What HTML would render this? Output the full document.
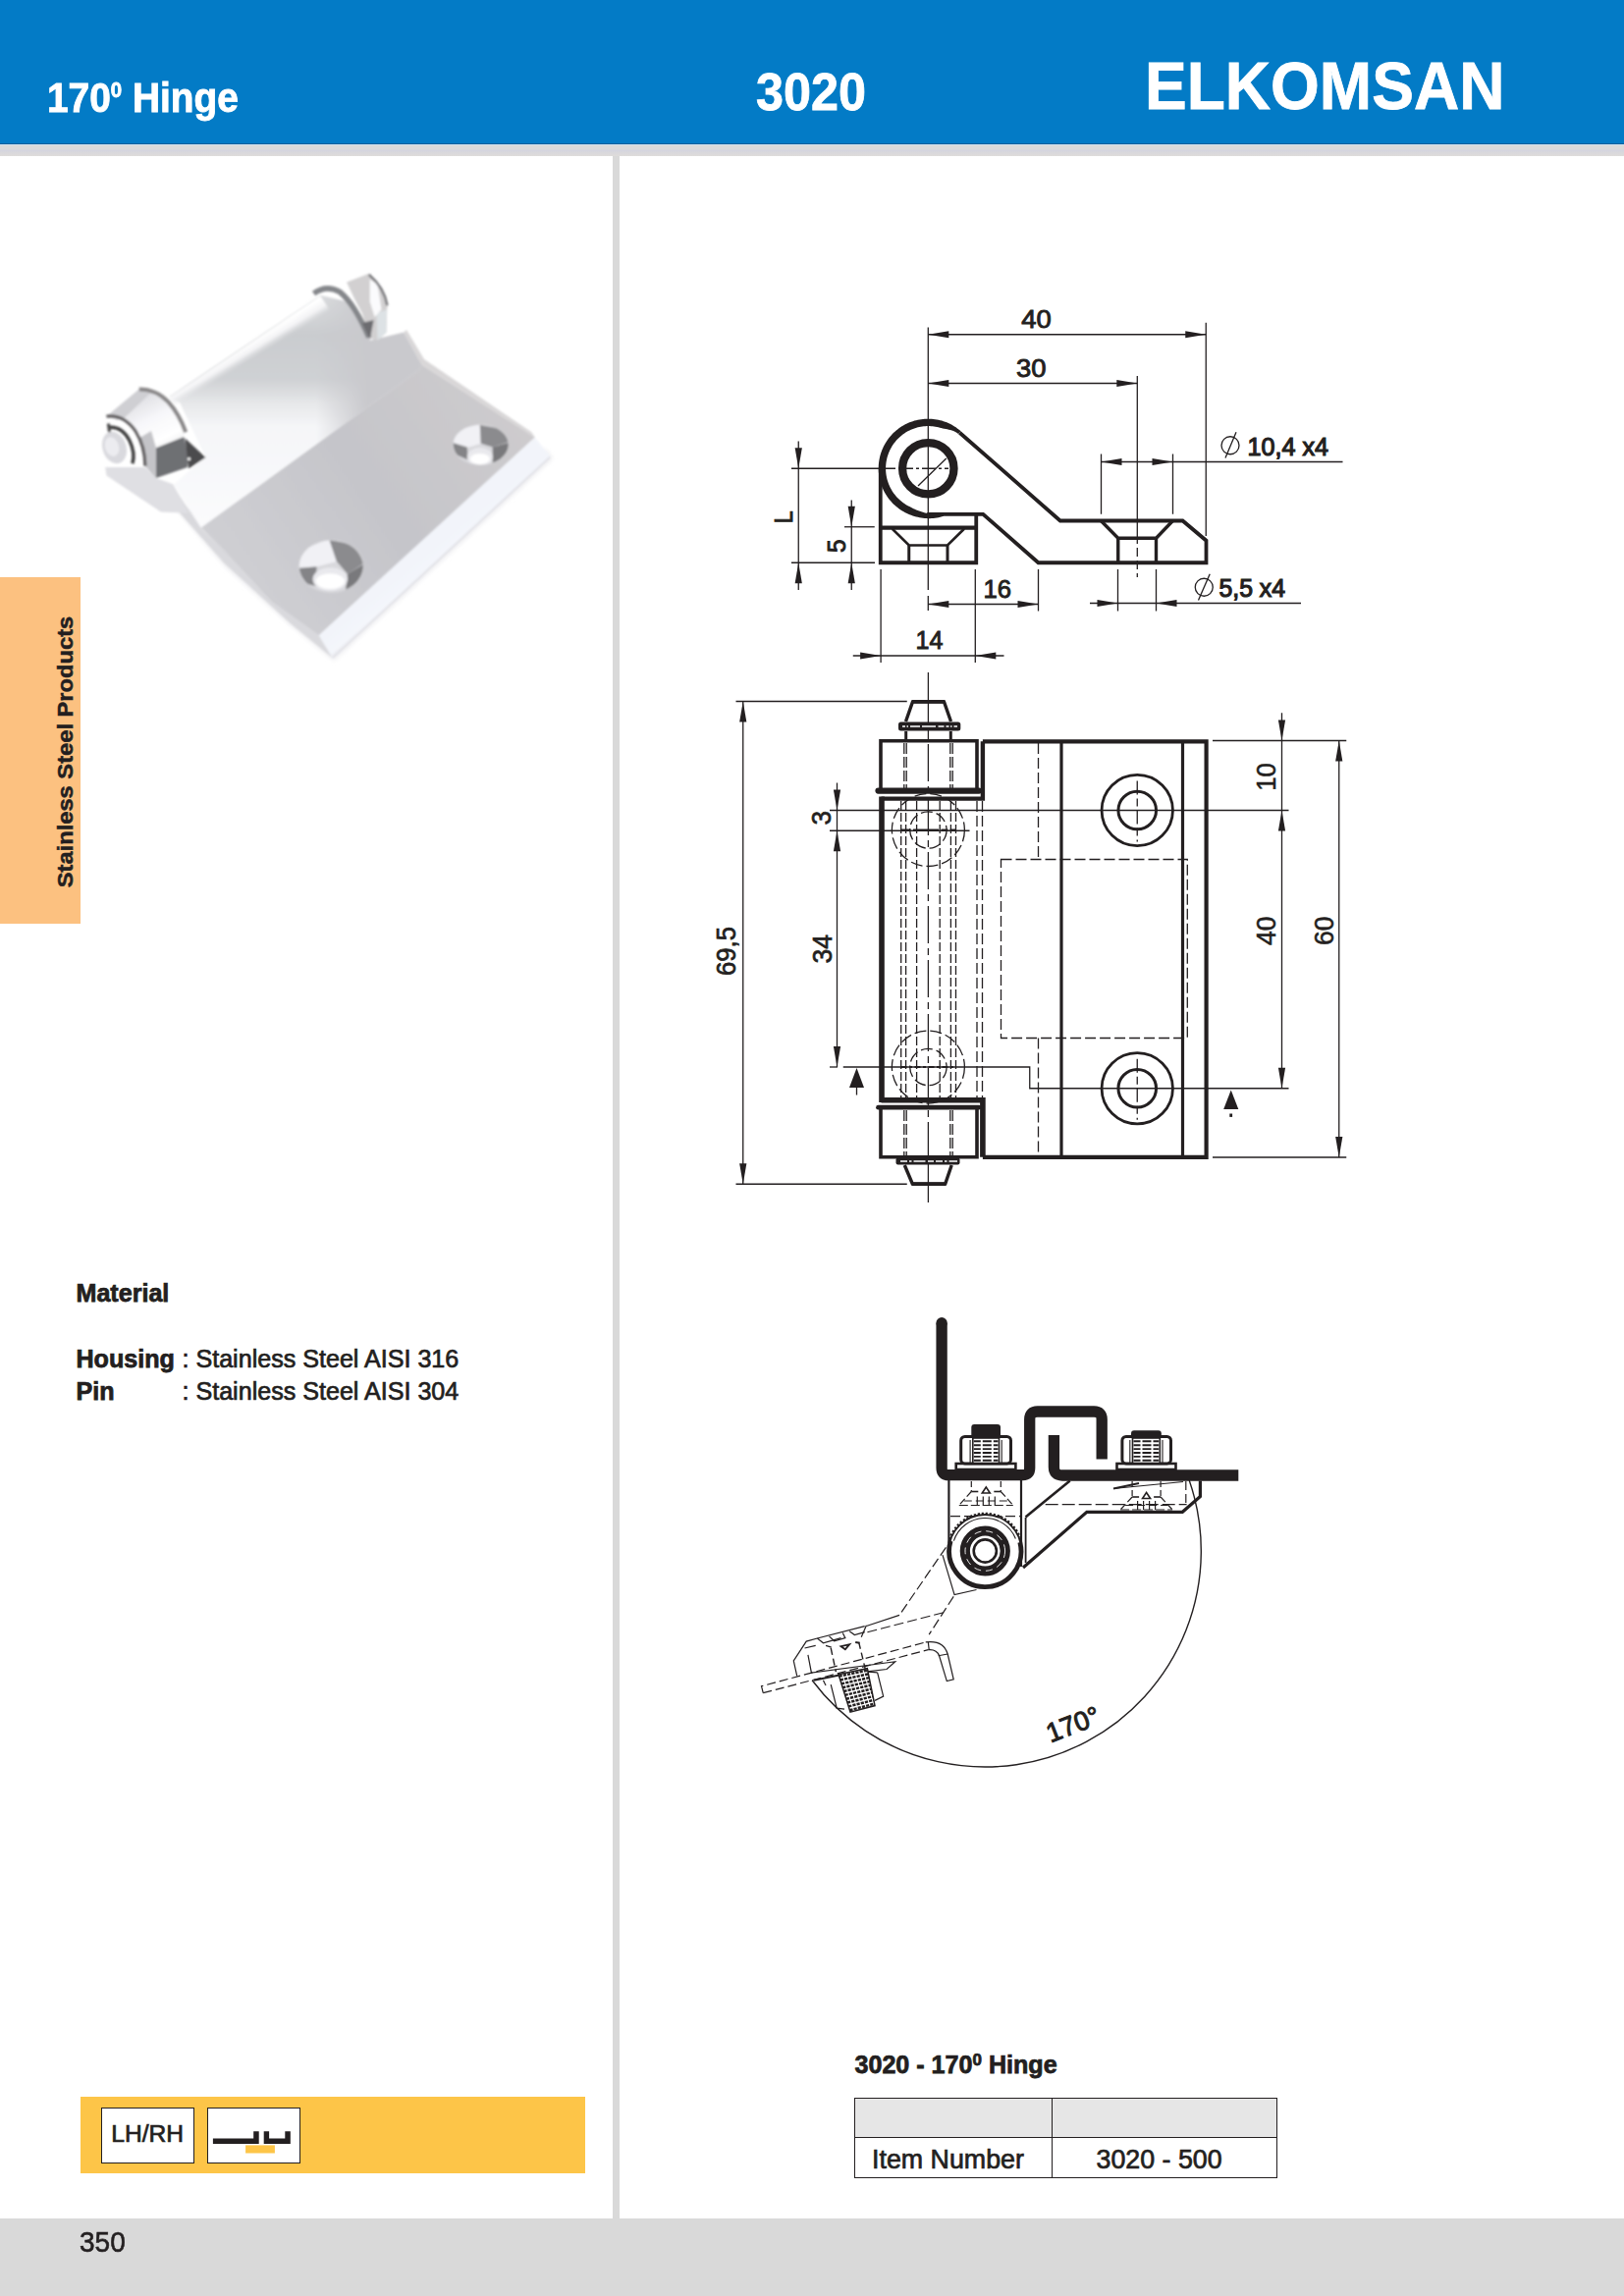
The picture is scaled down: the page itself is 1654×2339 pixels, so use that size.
<!DOCTYPE html>
<html>
<head>
<meta charset="utf-8">
<title>3020 - 170 Hinge</title>
<style>
html,body{margin:0;padding:0;background:#fff;}
body{width:1654px;height:2339px;position:relative;overflow:hidden;font-family:"Liberation Sans",sans-serif;color:#231f20;}
.abs{position:absolute;}
#hdr{left:0;top:0;width:1654px;height:146px;background:#037bc6;}
#hdrline{left:0;top:145.5px;width:1654px;height:1.5px;background:#07609b;}
#hdrline2{left:0;top:147px;width:1654px;height:1px;background:#cfe0ee;}
#strip{left:0;top:148px;width:1654px;height:11px;background:linear-gradient(#dadada 0,#dadada 35%,#d5d5df 50%,#d9d8dc 70%,#dedcda 100%);}
#vline{left:624px;top:159px;width:7px;height:2101px;background:#d9d9d9;}
#ftr{left:0;top:2260px;width:1654px;height:79px;background:#d9d9d9;}
.t{position:absolute;white-space:nowrap;line-height:1;}
.w{color:#fff;font-weight:bold;}
#h1{left:47.5px;top:79px;font-size:42px;-webkit-text-stroke:0.9px #fff;transform:scaleX(0.925);transform-origin:0 0;}
#h1 sup{font-size:22px;vertical-align:baseline;position:relative;top:-15.3px;line-height:0;}
#h2{left:770px;top:68px;font-size:52.8px;-webkit-text-stroke:0.8px #fff;transform:scaleX(0.953);transform-origin:0 0;}
#h3{left:1166px;top:53px;font-size:69px;-webkit-text-stroke:0.8px #fff;transform:scaleX(0.928);transform-origin:0 0;}
#tab{left:0;top:588px;width:82px;height:353px;background:#fcc180;}
#tabt{left:67.3px;top:766px;font-size:22.4px;font-weight:bold;color:#231f20;transform:translate(-50%,-50%) rotate(-90deg) scaleX(1.058);-webkit-text-stroke:0.5px #231f20;}
.b{font-weight:bold;-webkit-text-stroke:0.75px #231f20;}
.r{-webkit-text-stroke:0.7px #231f20;}
#ybar{left:82px;top:2136px;width:514px;height:78px;background:#fdc548;}
.wb{position:absolute;top:2147px;width:95px;height:57px;background:#fff;border:1px solid #231f20;box-sizing:border-box;}
#tbl{left:870px;top:2137px;width:431px;height:82px;box-sizing:border-box;border:1px solid #231f20;background:#fff;}
#tblh{left:871px;top:2138px;width:429px;height:39px;background:#e6e6e6;}
#tblm{left:870px;top:2177px;width:431px;height:1px;background:#231f20;}
#tblv{left:1071px;top:2137px;width:1px;height:82px;background:#231f20;}
</style>
</head>
<body>
<div class="abs" id="hdr"></div>
<div class="abs" id="hdrline"></div>
<div class="abs" id="hdrline2"></div>
<div class="abs" id="strip"></div>
<div class="abs" id="vline"></div>
<div class="abs" id="ftr"></div>

<div class="t w" id="h1">170<sup>0</sup> Hinge</div>
<div class="t w" id="h2">3020</div>
<div class="t w" id="h3">ELKOMSAN</div>

<div class="abs" id="tab"></div>
<div class="t" id="tabt">Stainless Steel Products</div>

<!-- PHOTO -->
<svg class="abs" style="left:0;top:0" width="640" height="720" viewBox="0 0 640 720">
<defs>
<filter id="pb" x="-5%" y="-5%" width="110%" height="110%"><feGaussianBlur stdDeviation="1.1"/></filter>
<filter id="pb2" x="-20%" y="-20%" width="140%" height="140%"><feGaussianBlur stdDeviation="2.2"/></filter>
<linearGradient id="gSlope" gradientUnits="userSpaceOnUse" x1="0" y1="300" x2="0" y2="540">
 <stop offset="0" stop-color="#dcdee0"/><stop offset="0.17" stop-color="#cacccf"/><stop offset="0.36" stop-color="#cfd1d4"/><stop offset="0.46" stop-color="#e6e7e9"/><stop offset="0.56" stop-color="#f5f6f8"/><stop offset="1" stop-color="#fbfbfd"/></linearGradient>
<linearGradient id="gSlopeR" gradientUnits="userSpaceOnUse" x1="322" y1="0" x2="374" y2="0">
 <stop offset="0" stop-color="#c9c9cd" stop-opacity="0"/><stop offset="1" stop-color="#c9c9cd" stop-opacity="1"/></linearGradient>
<linearGradient id="gBar" gradientUnits="userSpaceOnUse" x1="250" y1="352" x2="258" y2="365">
 <stop offset="0" stop-color="#ffffff"/><stop offset="0.5" stop-color="#f3f3f5"/><stop offset="1" stop-color="#e0e1e3" stop-opacity="0"/></linearGradient>
<linearGradient id="gPlate" gradientUnits="userSpaceOnUse" x1="250" y1="600" x2="520" y2="420">
 <stop offset="0" stop-color="#cfcfd3"/><stop offset="0.5" stop-color="#c5c5ca"/><stop offset="1" stop-color="#cdcbcd"/></linearGradient>
<linearGradient id="gCham" gradientUnits="userSpaceOnUse" x1="330" y1="650" x2="345" y2="668">
 <stop offset="0" stop-color="#f2f4fa"/><stop offset="0.7" stop-color="#f4f6fb"/><stop offset="1" stop-color="#e4e4e8"/></linearGradient>
<linearGradient id="gKn" gradientUnits="userSpaceOnUse" x1="135" y1="410" x2="170" y2="480">
 <stop offset="0" stop-color="#e0e0e4"/><stop offset="0.3" stop-color="#f7f7fa"/><stop offset="0.6" stop-color="#ffffff"/><stop offset="1" stop-color="#d2d2d6"/></linearGradient>
</defs>
<g filter="url(#pb)">
<polygon points="181,520 230,578 296,637 340,673 563,467 556,458" fill="#ededf0" filter="url(#pb2)"/>
<polygon points="172.4,403.9 326.3,300.8 358.6,308.5 377.1,347 411,338.7 429.4,371.6 428,376 205,537.5 177,493.2 209.3,465.5 183.1,410.1" fill="url(#gSlope)" />
<polygon points="172.4,403.9 326.3,300.8 358.6,308.5 377.1,347 411,338.7 429.4,371.6 428,376 205,537.5 177,493.2 209.3,465.5 183.1,410.1" fill="url(#gSlopeR)" />
<polygon points="172.4,405 326.3,301.5 340,322 188,424" fill="url(#gBar)" />
<polygon points="205,537.5 428,376 429.4,371.6 544.9,445.5 324.8,647.2 277,613.3 230.9,564" fill="url(#gPlate)" />
<polygon points="411,338.7 429.4,371.6 544.9,445.5 541,440 432,366 414,336" fill="#d9d7d8" />
<polygon points="177,496.3 204.7,537.9 230.9,564 277,613.3 324.8,647.2 338.6,670.3 295.5,634.9 227.8,573.3 181.6,520.9" fill="#d9d9dd" />
<polygon points="544.9,445.5 560.3,465.5 338.6,670.3 324.8,647.2" fill="url(#gCham)" />
<polyline points="560.3,465.5 338.6,670.3" fill="none" stroke="#dcdce2" stroke-width="1.5"/>
<ellipse cx="489.7" cy="453.1" rx="28.6" ry="20.8" fill="#d9d9dd"/>
<clipPath id="hc489"><ellipse cx="489.7" cy="453.1" rx="28.1" ry="20.3"/></clipPath>
<g clip-path="url(#hc489)">
<polygon points="461,452 466,438 488.8,432 489.7,452 476,456" fill="#f1f1f5" />
<polygon points="488.8,433 510.9,437 519,449.9 501.7,455.4 489.7,451.7" fill="#8b8b8e" />
<polygon points="501.7,455.4 519,450.8 517,466 501.7,473" fill="#79797c" />
<polygon points="460,450.8 475.8,455.4 476.7,468.4 464,463" fill="#848487" />
<ellipse cx="488.8" cy="465.4" rx="13" ry="9.5" fill="#e9e9ed"/>
<ellipse cx="488.8" cy="467.4" rx="10" ry="5.5" fill="#ffffff"/>
</g>
<ellipse cx="337.3" cy="576.9" rx="33" ry="27" fill="#d9d9dd"/>
<clipPath id="hc337"><ellipse cx="337.3" cy="576.9" rx="32.5" ry="26.5"/></clipPath>
<g clip-path="url(#hc337)">
<polygon points="304,578 308,560 335.4,549 342.8,572 322,577.5" fill="#f1f1f5" />
<polygon points="335.4,550 361.3,555 370.7,573.7 353.9,584.7 342.8,571.8" fill="#8b8b8e" />
<polygon points="353.9,584.7 370.7,574.6 368.8,592 352,601.5" fill="#79797c" />
<polygon points="303,579.2 322.5,577.3 321.6,597 309,594" fill="#848487" />
<ellipse cx="336.3" cy="590.1" rx="17.8" ry="11.9" fill="#e9e9ed"/>
<ellipse cx="336.3" cy="592.1" rx="14.8" ry="7.9" fill="#ffffff"/>
</g>
<polygon points="353.05,287.59 375.71,278.72 388.52,292.51 394.43,311.23 393.45,338.82 384.58,346.7 376.7,344.73 368.82,319.11 360.94,304.33" fill="#d2d0d1" />
<polygon points="383.6,319.11 393.94,315.17 393.45,338.82 384.58,346.7" fill="#dde2e5" />
<polygon points="376.7,284.63 384.58,289.56 388.52,315.17 381.63,323.05 376.7,307.29" fill="#fbfbfd" />
<path d="M375.71,279.7 Q391.48,293.5 394.43,311.23" fill="none" stroke="#66666a" stroke-width="2.2"/>
<path d="M319.56,298.92 Q332.36,289.56 346.16,297.44 Q360.94,309.26 375.71,343.74" fill="none" stroke="#85878b" stroke-width="5.6"/>
<polygon points="368.82,328.97 380.64,326.01 376.7,345.71" fill="#6c6c70" />
<polygon points="107.2,475.9 147.9,475.9 159,487 176.2,493.2 192.2,522.7 163.9,521.5 130.6,499.3 108.5,484.5" fill="#dfdfe3" />
<polygon points="108.47,424.19 141.72,396.48 163.89,402.02 178.67,419.26 188.52,438.97 187.29,445.12 158.97,456.21 158.97,487 147.88,474.68 141.72,446.35 126.95,425.42" fill="url(#gKn)" />
<polygon points="108.47,424.19 141.72,396.48 154.04,399.56 126.95,425.42 119.56,427.88" fill="#cfcfd3" />
<polygon points="141.72,446.35 147.88,474.68 158.97,487 158.97,456.21 154.04,438.97" fill="#c4c4c8" />
<ellipse cx="116.5" cy="456" rx="12" ry="16.5" fill="#d9d9de" transform="rotate(-18 116.5 456)"/>
<ellipse cx="114" cy="455" rx="7" ry="10" fill="#ececf0" transform="rotate(-18 114 455)"/>
<polygon points="159,456.2 187.3,445.1 192.2,464.8 191,475.9 159,487" fill="#6e7073" />
<polygon points="188.5,446.4 209.5,466 192.2,477.5" fill="#4c4c4e" />
<circle cx="192.5" cy="467.5" r="1.6" fill="#fff"/>
<path d="M141.72,396.48 Q158.97,396.48 171.28,409.41 Q182.36,421.72 189.14,440.2" fill="none" stroke="#8a8889" stroke-width="4.2"/>
<path d="M108.47,424.19 Q125.71,421.72 138.03,438.97 Q147.88,454.98 147.88,474.68" fill="none" stroke="#5e5c5d" stroke-width="3.2"/>
<path d="M110.94,435.27 Q124.48,434.04 131.87,448.82 Q138.03,461.13 134.95,472.22" fill="none" stroke="#3e3c3d" stroke-width="3.4"/>
<path d="M110.32,431.58 L111.55,440.2" fill="none" stroke="#4a4849" stroke-width="3"/>
</g>
</svg>
<!-- /PHOTO -->
<!-- DRAWINGS -->
<svg class="abs" style="left:0;top:0" width="1654" height="2339" viewBox="0 0 1654 2339" fill="none" stroke="#231f20" font-family="Liberation Sans, sans-serif">
<g id="d1">
<line x1="945.3" y1="333.5" x2="945.3" y2="601" stroke-width="1.3"/>
<line x1="945.3" y1="607" x2="945.3" y2="622" stroke-width="1.3"/>
<line x1="945.3" y1="340.75" x2="1228.25" y2="340.75" stroke-width="1.3"/>
<polygon points="945.3,340.75 966.3,337.15 966.3,344.35" fill="#231f20" stroke="none"/>
<polygon points="1228.25,340.75 1207.25,344.35 1207.25,337.15" fill="#231f20" stroke="none"/>
<line x1="1228.25" y1="328.75" x2="1228.25" y2="546" stroke-width="1.3"/>
<text x="1040.2" y="334.4" font-size="25.5" textLength="30.5" lengthAdjust="spacingAndGlyphs" stroke-width="0.9" fill="#231f20" stroke="#231f20">40</text>
<line x1="945.3" y1="390.5" x2="1158.3" y2="390.5" stroke-width="1.3"/>
<polygon points="945.3,390.5 966.3,386.9 966.3,394.1" fill="#231f20" stroke="none"/>
<polygon points="1158.3,390.5 1137.3,394.1 1137.3,386.9" fill="#231f20" stroke="none"/>
<line x1="1158.3" y1="383" x2="1158.3" y2="545" stroke-width="1.3"/>
<line x1="1158.3" y1="545" x2="1158.3" y2="588" stroke-width="1.3" stroke-dasharray="9 4"/>
<text x="1035" y="383.9" font-size="25.5" textLength="30.5" lengthAdjust="spacingAndGlyphs" stroke-width="0.9" fill="#231f20" stroke="#231f20">30</text>
<path d="M977.33,440.7 L1079.8,530.5 L1204.5,530.5 L1228.5,550.75 L1228.5,573.25 L1057.5,573.25 L1001.25,523.9 L944.3,523.9" stroke-width="3.8" fill="none" stroke-linejoin="miter"/>
<polygon points="961.08,525.8 959.37,526.32 957.65,526.77 955.91,527.16 954.16,527.49 952.4,527.75 950.63,527.94 948.85,528.08 947.08,528.14 945.3,528.15 943.52,528.09 941.75,527.97 939.99,527.78 938.23,527.54 936.49,527.23 934.75,526.87 933.03,526.44 931.33,525.96 929.65,525.43 927.98,524.83 926.34,524.18 924.72,523.48 923.12,522.73 921.54,521.93 920,521.07 918.49,520.16 917,519.2 915.56,518.19 914.15,517.12 912.77,516.01 911.44,514.85 910.15,513.65 908.9,512.4 907.7,511.11 906.54,509.78 905.43,508.4 904.36,506.99 903.35,505.55 902.39,504.06 901.48,502.55 900.62,501.01 899.82,499.43 899.07,497.83 898.38,496.21 897.75,494.56 897.18,492.89 896.66,491.2 896.2,489.49 895.81,487.77 895.47,486.04 895.19,484.29 894.98,482.54 894.82,480.78 894.73,479.02 894.7,477.25 894.73,475.48 894.82,473.72 894.98,471.96 895.19,470.21 895.47,468.46 895.81,466.73 896.2,465.01 896.66,463.3 897.18,461.61 897.75,459.94 898.38,458.29 899.07,456.67 899.82,455.07 900.62,453.49 901.48,451.95 902.39,450.44 903.35,448.95 904.36,447.51 905.43,446.1 906.54,444.72 907.7,443.39 908.9,442.1 910.15,440.85 911.44,439.65 912.77,438.49 914.15,437.38 915.56,436.31 917,435.3 918.49,434.34 920,433.43 921.54,432.57 923.12,431.77 924.72,431.02 926.34,430.33 927.99,429.7 929.66,429.13 931.35,428.61 933.06,428.15 934.78,427.76 936.51,427.42 938.26,427.14 940.01,426.93 941.77,426.77 943.53,426.68 945.3,426.65 947.07,426.68 948.83,426.77 950.59,426.93 952.34,427.14 954.09,427.42 955.82,427.76 957.54,428.15 959.25,428.61 960.94,429.13 962.6,429.71 964.25,430.35 965.87,431.05 967.47,431.8 969.03,432.61 970.57,433.48 972.08,434.4 973.55,435.37 974.99,436.39 976.39,437.45 977.76,438.56 978.56,439.25 976.06,442.11 975.3,441.49 973.96,440.57 972.52,439.78 971.03,439.11 969.49,438.54 967.92,438.07 966.34,437.67 964.77,437.33 963.21,437.02 961.67,436.73 960.16,436.43 958.67,436.1 957.21,435.72 955.75,435.33 954.28,434.99 952.8,434.71 951.31,434.47 949.82,434.29 948.31,434.16 946.81,434.08 945.3,434.05 943.79,434.08 942.29,434.16 940.78,434.29 939.29,434.47 937.8,434.71 936.32,434.99 934.85,435.33 933.39,435.72 931.95,436.16 930.52,436.66 929.12,437.2 927.73,437.78 926.36,438.42 925.02,439.11 923.7,439.84 922.41,440.61 921.14,441.44 919.91,442.3 918.7,443.21 917.53,444.16 916.39,445.15 915.29,446.17 914.22,447.24 913.2,448.34 912.21,449.48 911.26,450.65 910.35,451.86 909.49,453.09 908.66,454.36 907.89,455.65 907.16,456.97 906.47,458.31 905.83,459.68 905.25,461.07 904.71,462.47 904.21,463.9 903.77,465.34 903.38,466.8 903.04,468.27 902.76,469.75 902.52,471.24 902.34,472.73 902.21,474.24 902.13,475.74 902.1,477.25 902.13,478.76 902.21,480.26 902.34,481.77 902.52,483.26 902.76,484.75 903.04,486.23 903.38,487.7 903.77,489.16 904.21,490.6 904.71,492.03 905.25,493.43 905.83,494.82 906.47,496.19 907.16,497.53 907.89,498.85 908.66,500.14 909.49,501.41 910.35,502.64 911.26,503.85 912.21,505.02 913.2,506.16 914.22,507.26 915.29,508.33 916.39,509.35 917.53,510.34 918.7,511.29 919.91,512.2 921.14,513.06 922.41,513.89 923.7,514.66 925.02,515.39 926.35,516.1 927.7,516.79 929.05,517.47 930.42,518.13 931.81,518.78 933.21,519.4 934.64,519.99 936.1,520.56 937.57,521.08 939.07,521.56 940.6,522 942.14,522.39 943.71,522.72 945.3,522.99 946.9,523.2 948.52,523.33 950.15,523.4 951.78,523.38 953.42,523.28 955.04,523.1 956.66,522.82 958.26,522.46 959.84,522" fill="#231f20" stroke="none"/>
<circle cx="945.3" cy="477.25" r="26.2" stroke-width="8.3" fill="none"/>
<path d="M896.75,477.25 L896.75,573.25 L994.25,573.25 L994.25,523.7" stroke-width="3.8" fill="none" stroke-linejoin="miter"/>
<line x1="896.75" y1="537.6" x2="994.25" y2="537.6" stroke-width="4.4"/>
<path d="M908.75,538.75 L925.75,555.5 L965,555.5 L982,538.75" stroke-width="2.6" fill="none"/>
<line x1="925.75" y1="555.5" x2="925.75" y2="573" stroke-width="3"/>
<line x1="965" y1="555.5" x2="965" y2="573" stroke-width="3"/>
<path d="M1121.25,530.5 L1138.75,548.25 L1177.5,548.25 L1194.5,530.5" stroke-width="3.4" fill="none"/>
<line x1="1138.75" y1="548.25" x2="1138.75" y2="573" stroke-width="3.4"/>
<line x1="1177.5" y1="548.25" x2="1177.5" y2="573" stroke-width="3.4"/>
<line x1="935" y1="495" x2="963.75" y2="467" stroke-width="1.3"/>
<line x1="806" y1="477.25" x2="912" y2="477.25" stroke-width="1.3"/>
<line x1="916" y1="477.25" x2="966" y2="477.25" stroke-width="1.3" stroke-dasharray="14 3 3 3"/>
<line x1="813.25" y1="449.5" x2="813.25" y2="601" stroke-width="1.3"/>
<line x1="806" y1="573.25" x2="891" y2="573.25" stroke-width="1.3"/>
<polygon points="813.25,477.25 809.65,456.25 816.85,456.25" fill="#231f20" stroke="none"/>
<polygon points="813.25,573.25 816.85,594.25 809.65,594.25" fill="#231f20" stroke="none"/>
<text x="806.8" y="533.3" font-size="25.5" textLength="13" lengthAdjust="spacingAndGlyphs" transform="rotate(-90 806.8 533.3)" stroke-width="0.9" fill="#231f20" stroke="#231f20">L</text>
<line x1="867.25" y1="509.5" x2="867.25" y2="601" stroke-width="1.3"/>
<line x1="860" y1="536.75" x2="890.75" y2="536.75" stroke-width="1.3"/>
<polygon points="867.25,536.75 863.65,515.75 870.85,515.75" fill="#231f20" stroke="none"/>
<polygon points="867.25,573.25 870.85,594.25 863.65,594.25" fill="#231f20" stroke="none"/>
<text x="861.2" y="563" font-size="25.5" textLength="13.5" lengthAdjust="spacingAndGlyphs" transform="rotate(-90 861.2 563)" stroke-width="0.9" fill="#231f20" stroke="#231f20">5</text>
<line x1="945.3" y1="615.5" x2="1057.5" y2="615.5" stroke-width="1.3"/>
<line x1="1057.5" y1="580" x2="1057.5" y2="622.5" stroke-width="1.3"/>
<polygon points="945.3,615.5 966.3,611.9 966.3,619.1" fill="#231f20" stroke="none"/>
<polygon points="1057.5,615.5 1036.5,619.1 1036.5,611.9" fill="#231f20" stroke="none"/>
<text x="1001.5" y="609" font-size="25.5" textLength="28.5" lengthAdjust="spacingAndGlyphs" stroke-width="0.9" fill="#231f20" stroke="#231f20">16</text>
<line x1="868.75" y1="668" x2="1022.5" y2="668" stroke-width="1.3"/>
<line x1="897.1" y1="580" x2="897.1" y2="675" stroke-width="1.3"/>
<line x1="993.3" y1="580" x2="993.3" y2="675" stroke-width="1.3"/>
<polygon points="897.1,668 876.1,671.6 876.1,664.4" fill="#231f20" stroke="none"/>
<polygon points="993.3,668 1014.3,664.4 1014.3,671.6" fill="#231f20" stroke="none"/>
<text x="932.5" y="661.4" font-size="25.5" textLength="28" lengthAdjust="spacingAndGlyphs" stroke-width="0.9" fill="#231f20" stroke="#231f20">14</text>
<line x1="1121.5" y1="462.5" x2="1121.5" y2="523.75" stroke-width="1.3"/>
<line x1="1194.5" y1="462.5" x2="1194.5" y2="523.75" stroke-width="1.3"/>
<line x1="1121.5" y1="470.5" x2="1367.5" y2="470.5" stroke-width="1.3"/>
<polygon points="1121.5,470.5 1142.5,466.9 1142.5,474.1" fill="#231f20" stroke="none"/>
<polygon points="1194.5,470.5 1173.5,474.1 1173.5,466.9" fill="#231f20" stroke="none"/>
<circle cx="1253" cy="453.75" r="9" stroke-width="1.3" fill="none"/>
<line x1="1248" y1="466.5" x2="1259" y2="440.3" stroke-width="1.3"/>
<text x="1270.5" y="463.9" font-size="26" textLength="82.5" lengthAdjust="spacingAndGlyphs" stroke-width="1.2" fill="#231f20" stroke="#231f20">10,4 x4</text>
<line x1="1138.5" y1="580" x2="1138.5" y2="622.5" stroke-width="1.3"/>
<line x1="1177.5" y1="580" x2="1177.5" y2="622.5" stroke-width="1.3"/>
<line x1="1110" y1="614.5" x2="1325" y2="614.5" stroke-width="1.3"/>
<polygon points="1138.5,614.5 1117.5,618.1 1117.5,610.9" fill="#231f20" stroke="none"/>
<polygon points="1177.5,614.5 1198.5,610.9 1198.5,618.1" fill="#231f20" stroke="none"/>
<circle cx="1226.25" cy="598.25" r="9" stroke-width="1.3" fill="none"/>
<line x1="1220.5" y1="611.5" x2="1232.2" y2="584.8" stroke-width="1.3"/>
<text x="1241.5" y="608.4" font-size="26" textLength="67.5" lengthAdjust="spacingAndGlyphs" stroke-width="1.2" fill="#231f20" stroke="#231f20">5,5 x4</text>
</g>
<g id="d2">
<line x1="945.4" y1="685" x2="945.4" y2="754" stroke-width="1.3"/>
<line x1="945.4" y1="758" x2="945.4" y2="1178" stroke-width="1.3" stroke-dasharray="38 5 7 5"/>
<line x1="945.4" y1="1180" x2="945.4" y2="1225" stroke-width="1.3"/>
<line x1="749.5" y1="714.5" x2="923.75" y2="714.5" stroke-width="1.3"/>
<line x1="749.5" y1="1206.25" x2="923.75" y2="1206.25" stroke-width="1.3"/>
<line x1="756.75" y1="714.5" x2="756.75" y2="1206.25" stroke-width="1.3"/>
<polygon points="756.75,714.5 760.35,735.5 753.15,735.5" fill="#231f20" stroke="none"/>
<polygon points="756.75,1206.25 753.15,1185.25 760.35,1185.25" fill="#231f20" stroke="none"/>
<text x="749.4" y="994" font-size="27" textLength="50" lengthAdjust="spacingAndGlyphs" transform="rotate(-90 749.4 994)" stroke-width="0.7" fill="#231f20" stroke="#231f20">69,5</text>
<path d="M922.5,735 L929.5,715 L961.5,715 L968.5,735" stroke-width="3.4" fill="none" stroke-linejoin="miter"/>
<line x1="929" y1="714.8" x2="962" y2="714.8" stroke-width="3.6"/>
<rect x="915" y="735.6" width="63.3" height="8.8" rx="2.5" stroke="none" fill="#231f20"/>
<line x1="919" y1="740" x2="975" y2="740" stroke-width="1.5" stroke-dasharray="3 1.5 1.5 2 10 2 14 2.5 6 2" stroke="#fff"/>
<line x1="922.7" y1="745" x2="922.7" y2="753.5" stroke-width="3"/>
<line x1="968.3" y1="745" x2="968.3" y2="753.5" stroke-width="3"/>
<path d="M897,805 L897,754.8 L995,754.8 L995,805" stroke-width="3.6" fill="none" stroke-linejoin="miter"/>
<line x1="894.5" y1="805.6" x2="997" y2="805.6" stroke-width="6.2" stroke-linecap="round"/>
<path d="M897.5,813.6 L1000.9,813.6 L1000.9,755.3" stroke-width="4.4" fill="none" stroke-linejoin="miter"/>
<line x1="898" y1="811.5" x2="898" y2="1123" stroke-width="5.6"/>
<line x1="894.5" y1="1128.2" x2="997" y2="1128.2" stroke-width="4.8" stroke-linecap="round"/>
<path d="M897,1128 L897,1178.8 L995,1178.8 L995,1128" stroke-width="3.6" fill="none" stroke-linejoin="miter"/>
<path d="M897.5,1120.8 L1000.9,1120.8 L1000.9,1178.8" stroke-width="5.6" fill="none" stroke-linejoin="miter"/>
<rect x="912.5" y="1179.6" width="65" height="7" rx="2" stroke="none" fill="#231f20"/>
<line x1="917" y1="1183" x2="975" y2="1183" stroke-width="1.4" stroke-dasharray="7 2 2.5 2 12 2.5 6 2" stroke="#fff"/>
<path d="M921.3,1187 L929.3,1206 L962.7,1206 L969.2,1187" stroke-width="3.4" fill="none" stroke-linejoin="miter"/>
<line x1="929" y1="1206.2" x2="963" y2="1206.2" stroke-width="3.6"/>
<path d="M1000.9,755.3 L1228.6,755.3 L1228.6,1178.8 L1000.9,1178.8" stroke-width="4.2" fill="none" stroke-linejoin="miter"/>
<line x1="1081" y1="755" x2="1081" y2="1179" stroke-width="3.2"/>
<line x1="1204.5" y1="755" x2="1204.5" y2="1179" stroke-width="3.2"/>
<line x1="1057.5" y1="757" x2="1057.5" y2="875.5" stroke-width="1.3" stroke-dasharray="11 4"/>
<line x1="1057.5" y1="1057.5" x2="1057.5" y2="1177" stroke-width="1.3" stroke-dasharray="11 4"/>
<path d="M1019.5,875.5 L1209.3,875.5 L1209.3,1057.5 L1019.5,1057.5 Z" stroke-width="1.3" fill="none" stroke-dasharray="11 4"/>
<line x1="995" y1="816" x2="995" y2="1118" stroke-width="1.3" stroke-dasharray="11 4"/>
<line x1="1000.5" y1="816" x2="1000.5" y2="1118" stroke-width="1.3" stroke-dasharray="11 4"/>
<line x1="917.7" y1="816" x2="917.7" y2="1118" stroke-width="1.3" stroke-dasharray="9 3"/>
<line x1="922.6" y1="816" x2="922.6" y2="1118" stroke-width="1.3" stroke-dasharray="9 3"/>
<line x1="968.4" y1="816" x2="968.4" y2="1118" stroke-width="1.3" stroke-dasharray="9 3"/>
<line x1="973.5" y1="816" x2="973.5" y2="1118" stroke-width="1.3" stroke-dasharray="9 3"/>
<line x1="920.8" y1="757" x2="920.8" y2="803" stroke-width="1.3" stroke-dasharray="11 3"/>
<line x1="920.8" y1="1131" x2="920.8" y2="1177" stroke-width="1.3" stroke-dasharray="11 3"/>
<line x1="923.2" y1="757" x2="923.2" y2="803" stroke-width="1.3" stroke-dasharray="11 3"/>
<line x1="923.2" y1="1131" x2="923.2" y2="1177" stroke-width="1.3" stroke-dasharray="11 3"/>
<line x1="967.8" y1="757" x2="967.8" y2="803" stroke-width="1.3" stroke-dasharray="11 3"/>
<line x1="967.8" y1="1131" x2="967.8" y2="1177" stroke-width="1.3" stroke-dasharray="11 3"/>
<line x1="970.2" y1="757" x2="970.2" y2="803" stroke-width="1.3" stroke-dasharray="11 3"/>
<line x1="970.2" y1="1131" x2="970.2" y2="1177" stroke-width="1.3" stroke-dasharray="11 3"/>
<line x1="933.6" y1="816" x2="933.6" y2="1118" stroke-width="1.3" stroke-dasharray="9 3"/>
<line x1="957.2" y1="816" x2="957.2" y2="1118" stroke-width="1.3" stroke-dasharray="9 3"/>
<circle cx="945.4" cy="845.5" r="37" stroke-width="1.3" fill="none" stroke-dasharray="12 4"/>
<circle cx="945.4" cy="845.5" r="18.7" stroke-width="1.3" fill="none" stroke-dasharray="12 4"/>
<circle cx="945.4" cy="1087" r="37" stroke-width="1.3" fill="none" stroke-dasharray="12 4"/>
<circle cx="945.4" cy="1087" r="18.7" stroke-width="1.3" fill="none" stroke-dasharray="12 4"/>
<line x1="917.5" y1="845.6" x2="974" y2="845.6" stroke-width="2.2" stroke-dasharray="10 2.5 26 2.5 7 2"/>
<line x1="917.5" y1="1087" x2="974" y2="1087" stroke-width="1.8" stroke-dasharray="6 2.5 3 2.5"/>
<circle cx="1158.25" cy="825.5" r="36.2" stroke-width="2.8" fill="none"/>
<circle cx="1158.25" cy="825.5" r="19.3" stroke-width="3" fill="none"/>
<line x1="1158.25" y1="795.5" x2="1158.25" y2="857.5" stroke-width="1.3" stroke-dasharray="14 4 8 4"/>
<circle cx="1158.25" cy="1108.75" r="36.2" stroke-width="2.8" fill="none"/>
<circle cx="1158.25" cy="1108.75" r="19.3" stroke-width="3" fill="none"/>
<line x1="1158.25" y1="1078.75" x2="1158.25" y2="1140.75" stroke-width="1.3" stroke-dasharray="14 4 8 4"/>
<line x1="845" y1="825.5" x2="1312.5" y2="825.5" stroke-width="1.3"/>
<line x1="845" y1="846.25" x2="987.5" y2="846.25" stroke-width="1.3"/>
<line x1="852.5" y1="797.5" x2="852.5" y2="1087" stroke-width="1.3"/>
<polygon points="852.5,825.5 848.9,804.5 856.1,804.5" fill="#231f20" stroke="none"/>
<polygon points="852.5,846.25 856.1,867.25 848.9,867.25" fill="#231f20" stroke="none"/>
<polygon points="852.5,1087 848.9,1066 856.1,1066" fill="#231f20" stroke="none"/>
<text x="845.8" y="840.5" font-size="27" textLength="14.5" lengthAdjust="spacingAndGlyphs" transform="rotate(-90 845.8 840.5)" stroke-width="0.7" fill="#231f20" stroke="#231f20">3</text>
<text x="846.5" y="981.5" font-size="27" textLength="29.5" lengthAdjust="spacingAndGlyphs" transform="rotate(-90 846.5 981.5)" stroke-width="0.7" fill="#231f20" stroke="#231f20">34</text>
<line x1="845" y1="1087" x2="853" y2="1087" stroke-width="1.3"/>
<path d="M858.75,1087 L1048.75,1087 L1048.75,1108.75 L1312.5,1108.75" stroke-width="1.3" fill="none"/>
<polygon points="872.5,1088 865,1108 880,1108" fill="#231f20" stroke="none"/>
<line x1="872.5" y1="1108" x2="872.5" y2="1115.5" stroke-width="1.3"/>
<polygon points="1253.75,1110.5 1246.2,1130 1261.3,1130" fill="#231f20" stroke="none"/>
<rect x="1252.3" y="1134.5" width="2.8" height="3.4" fill="#231f20" stroke="none"/>
<line x1="1235" y1="754.5" x2="1371.25" y2="754.5" stroke-width="1.3"/>
<line x1="1235" y1="1179" x2="1371.25" y2="1179" stroke-width="1.3"/>
<line x1="1305.5" y1="726.25" x2="1305.5" y2="1108.75" stroke-width="1.3"/>
<polygon points="1305.5,754.5 1301.9,733.5 1309.1,733.5" fill="#231f20" stroke="none"/>
<polygon points="1305.5,825.5 1309.1,846.5 1301.9,846.5" fill="#231f20" stroke="none"/>
<polygon points="1305.5,1108.75 1301.9,1087.75 1309.1,1087.75" fill="#231f20" stroke="none"/>
<text x="1299" y="805.8" font-size="27" textLength="28.5" lengthAdjust="spacingAndGlyphs" transform="rotate(-90 1299 805.8)" stroke-width="0.5" fill="#231f20" stroke="#231f20">10</text>
<text x="1299" y="963" font-size="27" textLength="29.5" lengthAdjust="spacingAndGlyphs" transform="rotate(-90 1299 963)" stroke-width="0.5" fill="#231f20" stroke="#231f20">40</text>
<line x1="1363.75" y1="754.5" x2="1363.75" y2="1179" stroke-width="1.3"/>
<polygon points="1363.75,754.5 1367.35,775.5 1360.15,775.5" fill="#231f20" stroke="none"/>
<polygon points="1363.75,1179 1360.15,1158 1367.35,1158" fill="#231f20" stroke="none"/>
<text x="1357.6" y="963" font-size="27" textLength="29.5" lengthAdjust="spacingAndGlyphs" transform="rotate(-90 1357.6 963)" stroke-width="0.5" fill="#231f20" stroke="#231f20">60</text>
</g>
<g id="d3">
<path d="M1211.19,1508.01 A220,220 0 0 1 827.14,1711.79" stroke-width="1.4" fill="none"/>
<text x="1070" y="1775.5" font-size="27.5" textLength="56" lengthAdjust="spacingAndGlyphs" transform="rotate(-21 1070 1775.5)" stroke-width="1" fill="#231f20" stroke="#231f20">170°</text>
<line x1="966.4" y1="1508" x2="966.4" y2="1572" stroke-width="2.2"/>
<line x1="1040" y1="1508" x2="1040" y2="1596" stroke-width="2.2"/>
<line x1="1044.6" y1="1546" x2="1044.6" y2="1592" stroke-width="1.8"/>
<path d="M1044.5,1545.5 L1089.7,1508.4" stroke-width="2.6" fill="none"/>
<path d="M1042,1597 L1106.9,1540.3 L1204.3,1540.3 L1222.4,1524.5 L1222.4,1508.4" stroke-width="3.2" fill="none" stroke-linejoin="miter"/>
<line x1="1064.7" y1="1532.6" x2="1208.6" y2="1532.6" stroke-width="1.2" stroke-dasharray="13 4"/>
<line x1="1207.8" y1="1509" x2="1207.8" y2="1532" stroke-width="1.2" stroke-dasharray="9 4"/>
<line x1="968" y1="1544.7" x2="1039.7" y2="1544.7" stroke-width="1.2" stroke-dasharray="10 4"/>
<circle cx="1003.3" cy="1580" r="37" stroke-width="1.8" fill="#fff"/>
<path d="M1038.81,1571.15 A36.6,36.6 0 1 1 968.12,1569.91" stroke-width="4.8" fill="none"/>
<path d="M967.16,1568.26 A38,38 0 0 1 1038.53,1565.76" stroke-width="2.6" fill="none" stroke-dasharray="2.2 1.8"/>
<path d="M971.44,1569.65 A33.5,33.5 0 0 1 1034.36,1567.45" stroke-width="1.1" fill="none"/>
<circle cx="1003.3" cy="1580" r="20.5" stroke-width="10.2" fill="none"/>
<circle stroke="#fff" cx="1003.3" cy="1580" r="20.3" stroke-width="0.9" fill="none" stroke-dasharray="7 5"/>
<circle cx="1003.3" cy="1580" r="11.6" stroke-width="2.6" fill="#fff"/>
<circle stroke="#fff" cx="1003.3" cy="1580" r="14.2" stroke-width="0.8" fill="none"/>
<line x1="989.3" y1="1509" x2="989.3" y2="1519.5" stroke-width="1.2" stroke-dasharray="6 3"/>
<line x1="1019.3" y1="1509" x2="1019.3" y2="1519.5" stroke-width="1.2" stroke-dasharray="6 3"/>
<line x1="989.3" y1="1519.5" x2="996.3" y2="1519.5" stroke-width="1.6"/>
<line x1="1012.3" y1="1519.5" x2="1019.3" y2="1519.5" stroke-width="1.6"/>
<path d="M989.3,1519.5 L976.8,1533.5" stroke-width="1.2" fill="none" stroke-dasharray="7 3"/>
<path d="M1019.3,1519.5 L1031.8,1533.5" stroke-width="1.2" fill="none" stroke-dasharray="7 3"/>
<line x1="976.8" y1="1533.5" x2="1031.8" y2="1533.5" stroke-width="1.2" stroke-dasharray="9 3"/>
<line x1="981.8" y1="1529" x2="1026.8" y2="1529" stroke-width="1.2" stroke-dasharray="8 4"/>
<line x1="995.3" y1="1524.5" x2="995.3" y2="1533.5" stroke-width="1.2"/>
<line x1="1001.3" y1="1524.5" x2="1001.3" y2="1533.5" stroke-width="1.2"/>
<line x1="1007.3" y1="1524.5" x2="1007.3" y2="1533.5" stroke-width="1.2"/>
<line x1="1013.3" y1="1524.5" x2="1013.3" y2="1533.5" stroke-width="1.2"/>
<path d="M1000.3,1521 L1004.3,1515 L1008.3,1521 Z" stroke-width="1.6" fill="none"/>
<line x1="1153.1" y1="1509" x2="1153.1" y2="1525" stroke-width="1.2" stroke-dasharray="6 3"/>
<line x1="1182.1" y1="1509" x2="1182.1" y2="1525" stroke-width="1.2" stroke-dasharray="6 3"/>
<line x1="1153.1" y1="1525" x2="1160.1" y2="1525" stroke-width="1.6"/>
<line x1="1175.1" y1="1525" x2="1182.1" y2="1525" stroke-width="1.6"/>
<path d="M1153.1,1525 L1141.1,1538" stroke-width="1.2" fill="none" stroke-dasharray="7 3"/>
<path d="M1182.1,1525 L1194.1,1538" stroke-width="1.2" fill="none" stroke-dasharray="7 3"/>
<line x1="1141.1" y1="1538" x2="1194.1" y2="1538" stroke-width="1.2" stroke-dasharray="9 3"/>
<line x1="1146.1" y1="1533.5" x2="1189.1" y2="1533.5" stroke-width="1.2" stroke-dasharray="8 4"/>
<line x1="1158.6" y1="1529" x2="1158.6" y2="1538" stroke-width="1.2"/>
<line x1="1164.6" y1="1529" x2="1164.6" y2="1538" stroke-width="1.2"/>
<line x1="1170.6" y1="1529" x2="1170.6" y2="1538" stroke-width="1.2"/>
<line x1="1176.6" y1="1529" x2="1176.6" y2="1538" stroke-width="1.2"/>
<path d="M1163.6,1526.5 L1167.6,1520.5 L1171.6,1526.5 Z" stroke-width="1.6" fill="none"/>
<path d="M1134,1516.5 L1205,1509.5" stroke-width="1.2" fill="none"/>
<path d="M1134,1516.5 L1160,1511" stroke-width="2" fill="none"/>
<rect x="973.7" y="1491" width="60.7" height="6" stroke-width="2.6" fill="#fff"/>
<rect x="978.7" y="1463.4" width="50.8" height="27.5" rx="4" stroke-width="3" fill="#fff"/>
<line x1="988.1" y1="1467" x2="988.1" y2="1490" stroke-width="1.1"/>
<line x1="1020.2" y1="1467" x2="1020.2" y2="1490" stroke-width="1.1"/>
<rect x="989.3" y="1451" width="29.7" height="15" rx="3" fill="#231f20" stroke="none"/>
<rect x="990.8" y="1465" width="26.7" height="25.5" fill="#fff" stroke-width="1.6"/>
<line x1="991.8" y1="1468.3" x2="1016.5" y2="1468.3" stroke-width="1.9" stroke-dasharray="7 2 9 2"/>
<line x1="991.8" y1="1472.2" x2="1016.5" y2="1472.2" stroke-width="1.9" stroke-dasharray="7 2 9 2"/>
<line x1="991.8" y1="1476.1" x2="1016.5" y2="1476.1" stroke-width="1.9" stroke-dasharray="7 2 9 2"/>
<line x1="991.8" y1="1480" x2="1016.5" y2="1480" stroke-width="1.9" stroke-dasharray="7 2 9 2"/>
<line x1="991.8" y1="1483.9" x2="1016.5" y2="1483.9" stroke-width="1.9" stroke-dasharray="7 2 9 2"/>
<line x1="991.8" y1="1487.8" x2="1016.5" y2="1487.8" stroke-width="1.9" stroke-dasharray="7 2 9 2"/>
<rect x="1137.5" y="1491" width="60" height="6" stroke-width="2.6" fill="#fff"/>
<rect x="1142.9" y="1463.4" width="49.6" height="27.5" rx="4" stroke-width="3" fill="#fff"/>
<line x1="1150.8" y1="1467" x2="1150.8" y2="1490" stroke-width="1.1"/>
<line x1="1184" y1="1467" x2="1184" y2="1490" stroke-width="1.1"/>
<rect x="1152" y="1457.2" width="30.8" height="8.8" rx="3" fill="#231f20" stroke="none"/>
<rect x="1153.5" y="1465" width="27.8" height="25.5" fill="#fff" stroke-width="1.6"/>
<line x1="1154.5" y1="1468.3" x2="1180.3" y2="1468.3" stroke-width="1.9" stroke-dasharray="7 2 9 2"/>
<line x1="1154.5" y1="1472.2" x2="1180.3" y2="1472.2" stroke-width="1.9" stroke-dasharray="7 2 9 2"/>
<line x1="1154.5" y1="1476.1" x2="1180.3" y2="1476.1" stroke-width="1.9" stroke-dasharray="7 2 9 2"/>
<line x1="1154.5" y1="1480" x2="1180.3" y2="1480" stroke-width="1.9" stroke-dasharray="7 2 9 2"/>
<line x1="1154.5" y1="1483.9" x2="1180.3" y2="1483.9" stroke-width="1.9" stroke-dasharray="7 2 9 2"/>
<line x1="1154.5" y1="1487.8" x2="1180.3" y2="1487.8" stroke-width="1.9" stroke-dasharray="7 2 9 2"/>
<path d="M959.1,1347.7 L959.1,1495.5 Q959.1,1502.7 966.3,1502.7 L1041.6,1502.7 Q1048.7,1502.7 1048.7,1495.5 L1048.7,1446 Q1048.7,1438 1056.7,1438 L1114.2,1438 Q1122.2,1438 1122.2,1446 L1122.2,1486.6" stroke-width="11.3" fill="none" stroke-linecap="butt"/>
<circle cx="959.1" cy="1347.7" r="5.65" fill="#231f20" stroke="none"/>
<path d="M1073.4,1461.9 L1073.4,1494.5 Q1073.4,1503 1081.9,1503 L1261.3,1503" stroke-width="11.3" fill="none"/>
<path d="M963.45,1576.38 L916.03,1645.34" stroke-width="1.2" fill="none" stroke-dasharray="10 4"/>
<path d="M916.03,1645.34 L882.41,1656.55" stroke-width="1.2" fill="none"/>
<path d="M960,1584.14 L972.07,1624.66 L994.48,1619.48" stroke-width="1.2" fill="none"/>
<path d="M971.21,1626.38 L946.21,1665.17" stroke-width="1.2" fill="none" stroke-dasharray="10 4"/>
<path d="M960.86,1642.76 L880.69,1663.45" stroke-width="1.2" fill="none" stroke-dasharray="10 4"/>
<path d="M777.24,1724.66 L775.52,1717.76 L942.76,1672.93" stroke-width="1.2" fill="none" stroke-dasharray="9 4"/>
<path d="M777.24,1724.66 L945.34,1680.69" stroke-width="1.2" fill="none" stroke-dasharray="9 4"/>
<path d="M942.76,1672.93 Q960.86,1670.34 965.17,1685 L971.21,1710.86 L964.31,1712.59 L956.55,1686.72 Q953.97,1679.83 945.34,1680.69" stroke-width="1.2" fill="none"/>
<path d="M945.34,1672.93 L946.21,1680.69" stroke-width="1.2" fill="none"/>
<path d="M955.69,1686.72 L965.17,1685" stroke-width="1.2" fill="none"/>
<path d="M811.72,1707.41 L808.28,1691.9 L821.21,1672.07 L832.41,1668.97 L880.69,1656.55" stroke-width="1.2" fill="none"/>
<path d="M819.48,1678.97 L830.69,1676.38" stroke-width="1.2" fill="none"/>
<path d="M822.93,1685.86 L826.38,1703.97 L911.72,1692.76 L903.1,1700.52 L880.69,1703.1" stroke-width="1.2" fill="none"/>
<path d="M832.41,1668.97 L838.45,1673.79 L856.55,1668.62" stroke-width="1.2" fill="none"/>
<path d="M844.48,1666.9 L849.66,1671.72 L860.86,1668.62 L858.28,1663.45" stroke-width="1.2" fill="none"/>
<path d="M865.17,1661.72 L870.34,1665.52 L880.69,1662.59" stroke-width="1.2" fill="none"/>
<path d="M841.03,1676.38 L849.66,1678.97" stroke-width="1.2" fill="none" stroke-dasharray="6 3"/>
<path d="M846.21,1678.97 L851.38,1703.1" stroke-width="1.4" fill="none" stroke-dasharray="7 4"/>
<path d="M874.66,1672.93 L881.55,1701.38" stroke-width="1.4" fill="none" stroke-dasharray="7 4"/>
<path d="M856.55,1677.24 L860.86,1680.34 L865.17,1675.17 Z" stroke-width="1.8" fill="none"/>
<path d="M871.21,1672.93 L875.52,1673.79" stroke-width="2" fill="none"/>
<path d="M882.41,1655.69 L877.24,1667.76" stroke-width="1.2" fill="none"/>
<path d="M828.97,1711.72 L884.14,1700.52" stroke-width="2.2" fill="none"/>
<path d="M846.21,1716.03 L852.24,1740.17 L860,1741.03" stroke-width="1.2" fill="none"/>
<path d="M838.45,1711.72 L841.03,1716.9" stroke-width="1.2" fill="none"/>
<path d="M893.62,1703.97 L899.66,1728.1 L891.03,1732.41" stroke-width="1.2" fill="none"/>
<path d="M884.14,1703.1 L893.62,1703.97" stroke-width="1.2" fill="none"/>
<path d="M853.97,1705.69 L883.28,1699.66 L891.03,1737.59 L866.03,1744.14 Z" stroke-width="1.5" fill="#fff"/>
<line x1="854.57" y1="1707.61" x2="883.66" y2="1701.55" stroke-width="2.5" stroke-dasharray="3.2 1.1"/>
<line x1="855.78" y1="1711.46" x2="884.44" y2="1705.34" stroke-width="2.5" stroke-dasharray="3.2 1.1"/>
<line x1="856.98" y1="1715.3" x2="885.22" y2="1709.14" stroke-width="2.5" stroke-dasharray="3.2 1.1"/>
<line x1="858.19" y1="1719.15" x2="885.99" y2="1712.93" stroke-width="2.5" stroke-dasharray="3.2 1.1"/>
<line x1="859.4" y1="1722.99" x2="886.77" y2="1716.72" stroke-width="2.5" stroke-dasharray="3.2 1.1"/>
<line x1="860.6" y1="1726.84" x2="887.54" y2="1720.52" stroke-width="2.5" stroke-dasharray="3.2 1.1"/>
<line x1="861.81" y1="1730.68" x2="888.32" y2="1724.31" stroke-width="2.5" stroke-dasharray="3.2 1.1"/>
<line x1="863.02" y1="1734.53" x2="889.09" y2="1728.1" stroke-width="2.5" stroke-dasharray="3.2 1.1"/>
<line x1="864.22" y1="1738.37" x2="889.87" y2="1731.9" stroke-width="2.5" stroke-dasharray="3.2 1.1"/>
<line x1="865.43" y1="1742.22" x2="890.65" y2="1735.69" stroke-width="2.5" stroke-dasharray="3.2 1.1"/>
</g>
</svg>
<!-- /DRAWINGS -->

<div class="t b" style="left:77.5px;top:1305.3px;font-size:25.1px;">Material</div>
<div class="t b" style="left:77.5px;top:1372.3px;font-size:25.1px;">Housing</div>
<div class="t r" style="left:185.5px;top:1372.3px;font-size:25.1px;">: Stainless Steel AISI 316</div>
<div class="t b" style="left:77.5px;top:1405.3px;font-size:25.1px;">Pin</div>
<div class="t r" style="left:185.5px;top:1405.3px;font-size:25.1px;">: Stainless Steel AISI 304</div>

<div class="abs" id="ybar"></div>
<div class="wb" style="left:103px;"></div>
<div class="wb" style="left:211px;"></div>
<div class="t r" style="left:113.3px;top:2162.4px;font-size:24.6px;">LH/RH</div>
<svg class="abs" style="left:211px;top:2147px" width="95" height="57" viewBox="0 0 95 57">
  <path d="M5.9,31.6 H47.2 V24.2 H52.7 V37 H5.9 Z M57.7,24.2 H63.1 V31.6 H79.3 V24.2 H84.8 V37 H57.7 Z" fill="#231f20"/>
  <rect x="39.1" y="38.4" width="29.8" height="8.1" fill="#fdc548"/>
</svg>

<div class="t" style="left:81px;top:2270px;font-size:29px;-webkit-text-stroke:0.6px #231f20;transform:scaleX(0.965);transform-origin:0 0;">350</div>

<div class="t b" style="left:870.5px;top:2091.3px;font-size:25.1px;">3020 - 170<span style="font-size:17px;position:relative;top:-8.5px;">0</span> Hinge</div>
<div class="abs" id="tbl"></div>
<div class="abs" id="tblh"></div>
<div class="abs" id="tblm"></div>
<div class="abs" id="tblv"></div>
<div class="t r" style="left:888px;top:2186.6px;font-size:26.8px;">Item Number</div>
<div class="t r" style="left:1116.5px;top:2186.6px;font-size:26.8px;">3020 - 500</div>
</body>
</html>
